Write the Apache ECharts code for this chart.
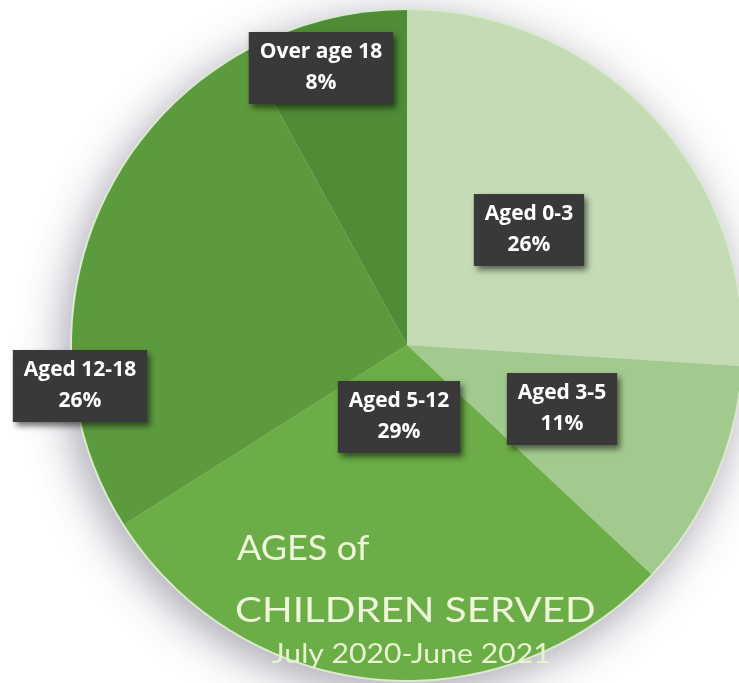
<!DOCTYPE html>
<html>
<head>
<meta charset="utf-8">
<script src="https://cdn.jsdelivr.net/npm/echarts@6/dist/echarts.min.js"></script>
<style>
html,body{margin:0;padding:0;background:#fff;}
#c{width:739px;height:683px;}
</style>
</head>
<body>
<div id="c"></div>
<script>
// Data
const categories = ['Aged 0-3', 'Aged 3-5', 'Aged 5-12', 'Aged 12-18', 'Over age 18'];
const percents = [26, 11, 29, 26, 8];
const titleLines = ['AGES of', 'CHILDREN SERVED', 'July 2020-June 2021'];

// Styles / layout (not data)
const sliceColors = ['#c4dbb6', '#a2c98e', '#6bad46', '#5c9b3d', '#4f8c36'];
const labelCenters = [[529, 230], [562, 409], [399, 417], [80, 386], [321, 68]];
const CX = 407, CY = 345, R = 335;

const chart = echarts.init(document.getElementById('c'), null, {renderer: 'canvas'});

const pieData = categories.map((name, i) => ({
  name: name,
  value: percents[i],
  itemStyle: {color: sliceColors[i]}
}));

chart.setOption({
  animation: false,
  backgroundColor: '#ffffff',
  series: [
    {
      type: 'pie',
      silent: true,
      center: [CX, CY],
      radius: R + 2,
      startAngle: 90,
      label: {show: false},
      labelLine: {show: false},
      itemStyle: {
        color: '#d9eacf',
        shadowBlur: 45,
        shadowColor: 'rgba(60,50,80,0.45)',
        shadowOffsetX: -6,
        shadowOffsetY: 10
      },
      data: [{name: 'bg', value: 1}],
      z: 1
    },
    {
      type: 'pie',
      center: [CX, CY],
      radius: R,
      startAngle: 90,
      clockwise: true,
      z: 2,
      itemStyle: {borderWidth: 0},
      labelLine: {show: false},
      label: {
        show: true,
        position: 'inside',
        formatter: p => p.name + '\n' + p.value + '%',
        color: '#ffffff',
        fontFamily: 'Open Sans',
        fontWeight: 'bold',
        fontSize: 21,
        lineHeight: 31,
        align: 'center',
        verticalAlign: 'middle',
        backgroundColor: '#393939',
        padding: [5, 11],
        shadowColor: 'rgba(0,0,0,0.55)',
        shadowBlur: 6,
        shadowOffsetX: 3,
        shadowOffsetY: 4
      },
      labelLayout: function (params) {
        const p = labelCenters[params.dataIndex];
        return {x: p[0], y: p[1], align: 'center', verticalAlign: 'middle'};
      },
      data: pieData
    }
  ],
  graphic: [
    {
      type: 'text', z: 10, left: 237, top: 532,
      scaleX: 1.06,
      style: {text: titleLines[0], fill: '#eef6da', font: '400 34px Lato'}
    },
    {
      type: 'text', z: 10, left: 235, top: 594,
      scaleX: 1.185,
      style: {text: titleLines[1], fill: '#eef6da', font: '400 34px Lato'}
    },
    {
      type: 'text', z: 10, left: 272, top: 642,
      scaleX: 1.16,
      style: {text: titleLines[2], fill: '#e8f3d0', font: '400 26px Lato'}
    }
  ]
});
</script>
</body>
</html>
